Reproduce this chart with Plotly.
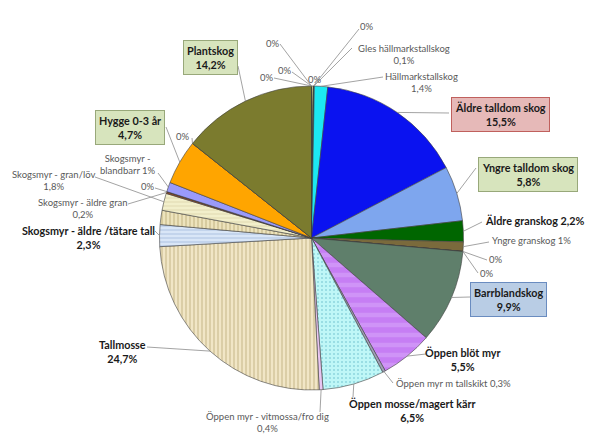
import math
import plotly.graph_objects as go

# ---------------- data ----------------
categories = [
    "Övrigt (ej märkt)", "Kategori A", "Kategori B", "Gles hällmarkstallskog", "Hällmarkstallskog",
    "Äldre talldom skog", "Yngre talldom skog", "Äldre granskog", "Yngre granskog",
    "Kategori C", "Kategori D", "Barrblandskog", "Öppen blöt myr", "Öppen myr m tallskikt",
    "Öppen mosse/magert kärr", "Öppen myr - vitmossa/fro dig", "Tallmosse",
    "Skogsmyr - äldre /tätare tall", "Skogsmyr (ej märkt)", "Skogsmyr - gran/löv",
    "Skogsmyr - äldre gran", "Kategori E", "Skogsmyr - blandbarr", "Hygge 0-3 år",
    "Kategori F", "Plantskog", "Kategori G", "Kategori H", "Kategori I",
]
values = [
    0.2, 0, 0, 0.1, 1.4,
    15.5, 5.8, 2.2, 1.0,
    0, 0, 9.9, 5.5, 0.3,
    6.5, 0.4, 24.7,
    2.3, 1.5, 1.8,
    0.2, 0, 1.0, 4.7,
    0, 14.2, 0, 0, 0,
]

# ---------------- styles ----------------
colors = [
    "#F2EEA0", "#FFFFFF", "#FFFFFF", "#205A5A", "#1CE8F2",
    "#0A12F0", "#7EA6EE", "#006600", "#7A6A3C",
    "#FFFFFF", "#FFFFFF", "#5F7F6B", "#C67EF4", "#A0A0B8",
    "#BFF7F7", "#E8C6F2", "#F1E6C6",
    "#D9E6F7", "#EDE3BC", "#F2EFCB",
    "#8C4A28", "#FFFFFF", "#9A9AFA", "#FFA500",
    "#FFFFFF", "#7B7B2E", "#FFFFFF", "#FFFFFF", "#FFFFFF",
]
pat_shape = [""] * len(categories)
pat_fg = list(colors)
pat_size = [8] * len(categories)
pat_sol = [0.3] * len(categories)
for i, s, fg, sz, so in [
    (16, "|", "#CDBE92", 4, 0.3),
    (17, "-", "#B4C9E6", 4, 0.3),
    (18, "|", "#C9BB8C", 4, 0.3),
    (19, "-", "#E4DEB6", 4, 0.3),
    (14, ".", "#8ED6DE", 4, 0.2),
    (12, "-", "#CF94F7", 10, 0.45),
]:
    pat_shape[i], pat_fg[i], pat_size[i], pat_sol[i] = s, fg, sz, so

W, H = 610, 441
CX, CY, R = 311.5, 238.0, 152.0

def px(x):
    return x / W

def py(y):
    return 1 - y / H

def fmt(v):
    if abs(v - round(v)) < 1e-9:
        return f"{int(round(v))}%"
    return f"{v:.1f}".replace(".", ",") + "%"

# label layout: index -> (text mode, style, (x, y) px, xanchor, leader start or None)
label_layout = {
    1: ("pct", "small", (315, 79), "center", None),
    2: ("pct", "small", (367, 26), "center", (359, 29)),
    3: ("two", "small", (404, 54), "center", (352, 48)),
    4: ("two", "small", (421, 82), "center", (383, 77)),
    5: ("two", "box_red", (500, 114), "center", (449, 113)),
    6: ("two", "box_green", (528, 174), "center", (476, 168)),
    7: ("one", "bold", (483, 221), "left", (482, 222)),
    8: ("one", "small", (490, 240), "left", (489, 242)),
    9: ("pct", "small", (487, 259), "left", (487, 260)),
    10: ("pct", "small", (478, 273), "left", (478, 273)),
    11: ("two", "box_blue", (509, 299), "center", (470, 297)),
    12: ("two", "bold", (463, 359), "center", (426, 354)),
    13: ("one", "small", (394, 383), "left", (393, 383)),
    14: ("two", "bold", (412, 410), "center", (353, 397)),
    15: ("two", "small", (267, 422), "center", (320, 412)),
    16: ("two", "bold", (122, 351), "center", (147, 347)),
    17: ("two", "bold", (88, 237), "center", (155, 231)),
    19: ("two", "small", (53, 181), "center", (95, 177)),
    20: ("two", "small", (83, 208), "center", (128, 204)),
    21: ("pct", "small", (139, 186), "left", (155, 188)),
    22: ("wrap", "small", (128, 164), "center", (158, 173)),
    23: ("two", "box_green", (130, 127), "center", (166, 127)),
    24: ("pct", "small", (183, 136), "center", (192, 138)),
    25: ("two", "box_green", (210, 58), "center", (238, 66)),
    26: ("pct", "small", (267, 77), "center", (274, 78)),
    27: ("pct", "small", (285, 70), "center", (292, 72)),
    28: ("pct", "small", (273, 43), "center", (280, 44)),
}

FONT = "Lato"
styles = {
    "small": dict(font=dict(family=FONT, size=9.5, color="#595959")),
    "bold": dict(font=dict(family=FONT, size=10.8, color="#1A1A1A"), bold=True),
    "box_green": dict(font=dict(family=FONT, size=10.8, color="#1A1A1A"), bold=True,
                      bgcolor="#D7E4BD", bordercolor="#98A87A"),
    "box_red": dict(font=dict(family=FONT, size=10.8, color="#1A1A1A"), bold=True,
                    bgcolor="#E6B9B8", bordercolor="#C0605D"),
    "box_blue": dict(font=dict(family=FONT, size=10.8, color="#1A1A1A"), bold=True,
                     bgcolor="#B9CDE5", bordercolor="#6A8CC0"),
}

fig = go.Figure(go.Pie(
    labels=categories,
    values=values,
    sort=False,
    direction="clockwise",
    rotation=0,
    textinfo="none",
    hoverinfo="label+percent",
    showlegend=False,
    marker=dict(
        colors=colors,
        line=dict(color="#404040", width=0.6),
        pattern=dict(shape=pat_shape, fgcolor=pat_fg, bgcolor=colors,
                     size=pat_size, solidity=pat_sol, fillmode="replace"),
    ),
    domain=dict(x=[px(CX - R), px(CX + R)], y=[py(CY + R), py(CY - R)]),
))

total = sum(values)
cum = 0.0
edge_angles = []
for v in values:
    a0 = cum / total * 360
    cum += v
    a1 = cum / total * 360
    edge_angles.append((a0 + a1) / 2)

annotations = []
shapes = []
for i, (mode, st, (lx, ly), xa, lead) in label_layout.items():
    name, v = categories[i], values[i]
    if mode == "pct":
        txt = fmt(v)
    elif mode == "one":
        txt = f"{name} {fmt(v)}"
    elif mode == "wrap":
        a, b = name.split(" - ", 1)
        txt = f"{a} -<br>{b} {fmt(v)}"
    else:
        txt = f"{name}<br>{fmt(v)}"
    s = styles[st]
    if s.get("bold"):
        txt = "<br>".join(f"<b>{t}</b>" for t in txt.split("<br>"))
    ann = dict(x=px(lx), y=py(ly), xref="paper", yref="paper", text=txt,
               showarrow=False, xanchor=xa, yanchor="middle", align="center",
               font=s["font"])
    if "bgcolor" in s:
        ann.update(bgcolor=s["bgcolor"], bordercolor=s["bordercolor"], borderwidth=1, borderpad=3)
    annotations.append(ann)
    if lead is not None:
        th = math.radians(edge_angles[i])
        ex = CX + R * math.sin(th)
        ey = CY - R * math.cos(th)
        shapes.append(dict(type="line", xref="paper", yref="paper",
                           x0=px(lead[0]), y0=py(lead[1]), x1=px(ex), y1=py(ey),
                           line=dict(color="#8C8C8C", width=0.8), layer="above"))

fig.update_layout(
    width=W, height=H,
    margin=dict(l=0, r=0, t=0, b=0),
    paper_bgcolor="white",
    plot_bgcolor="white",
    annotations=annotations,
    shapes=shapes,
)

fig.write_html("out.html")
